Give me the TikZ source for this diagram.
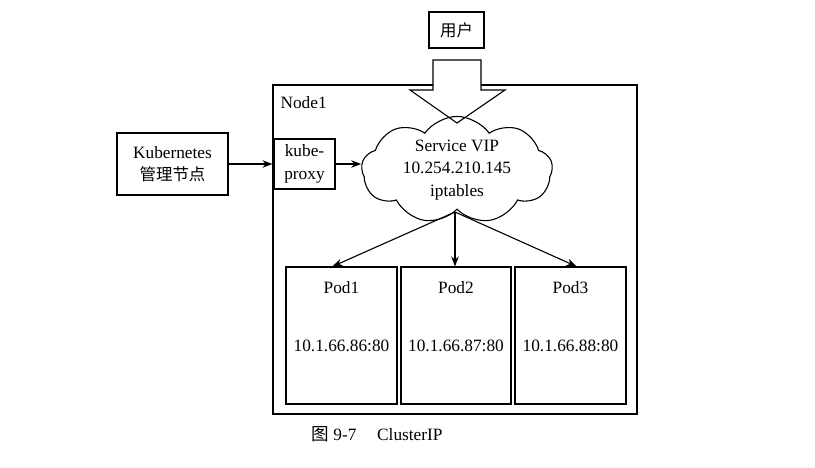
\documentclass[tikz,border=0pt]{standalone}
\usepackage{fontspec}
\setmainfont{Liberation Serif}
\newfontfamily\cjk{Noto Sans CJK SC}[Scale=0.95]
\usetikzlibrary{shapes.symbols,arrows.meta,calc}
\begin{document}
\begin{tikzpicture}[x=1pt,y=-1pt,
  line width=1.1pt,
  every node/.style={font=\fontsize{17.3}{22.5}\selectfont, inner sep=0pt},
  box/.style={draw, align=center},
  arr/.style={-{Stealth[length=10pt,width=7.5pt]}}]
\useasboundingbox (0,0) rectangle (815,467);
% Node1 container
\node[box, minimum width=364pt, minimum height=329pt] (node1) at (455,249.5) {};
\node[anchor=west] (node1lbl) at (280,103) {Node1};
% user
\node[box, minimum width=55pt, minimum height=36pt] (user) at (456.5,30) {\cjk 用户};
% block arrow
\draw[fill=white] (433,60) coordinate (ba) -- (481,60) -- (481,90) -- (505,90) -- (457,123) coordinate (batip) -- (410,90) -- (433,90) -- cycle;
% Kubernetes
\node[box, minimum width=111pt, minimum height=62pt] (k8s) at (172.5,164) {Kubernetes\\{\cjk 管理节点}};
% kube-proxy
\node[box, minimum width=61pt, minimum height=50pt] (proxy) at (304.5,164) {kube-\\proxy};
% cloud
\node[cloud, draw, cloud puffs=9, cloud puff arc=110, cloud ignores aspect, minimum width=191pt, minimum height=85pt, align=center] (vip) at (457,170) {Service VIP\\10.254.210.145\\iptables};
% pods
\node[box, minimum width=111pt, minimum height=137pt] (p1) at (341.5,335.5) {};
\node[box, minimum width=110pt, minimum height=137pt] (p2) at (456,335.5) {};
\node[box, minimum width=111pt, minimum height=137pt] (p3) at (570.5,335.5) {};
\node (p1a) at (341.5,288) {Pod1};
\node (p1b) at (341.5,346) {10.1.66.86:80};
\node (p2a) at (456,288) {Pod2};
\node (p2b) at (456,346) {10.1.66.87:80};
\node (p3a) at (570.5,288) {Pod3};
\node (p3b) at (570.5,346) {10.1.66.88:80};
% connectors
\draw[arr] (k8s.east) -- (k8s.east -| node1.west);
\draw[arr] (proxy.east) -- (proxy.east -| vip.west);
\coordinate (src) at (455,212);
\draw[arr] (src) -- ($(p1.north)+(-9,0)$);
\draw[arr] (src) -- (p2.north -| src);
\draw[arr] (src) -- ($(p3.north)+(6,0)$);
% caption
\node (cap) at (377,434) {{\cjk\fontsize{18.5}{22}\selectfont 图} 9-7\hspace{1.2em}ClusterIP};
\end{tikzpicture}
\end{document}
